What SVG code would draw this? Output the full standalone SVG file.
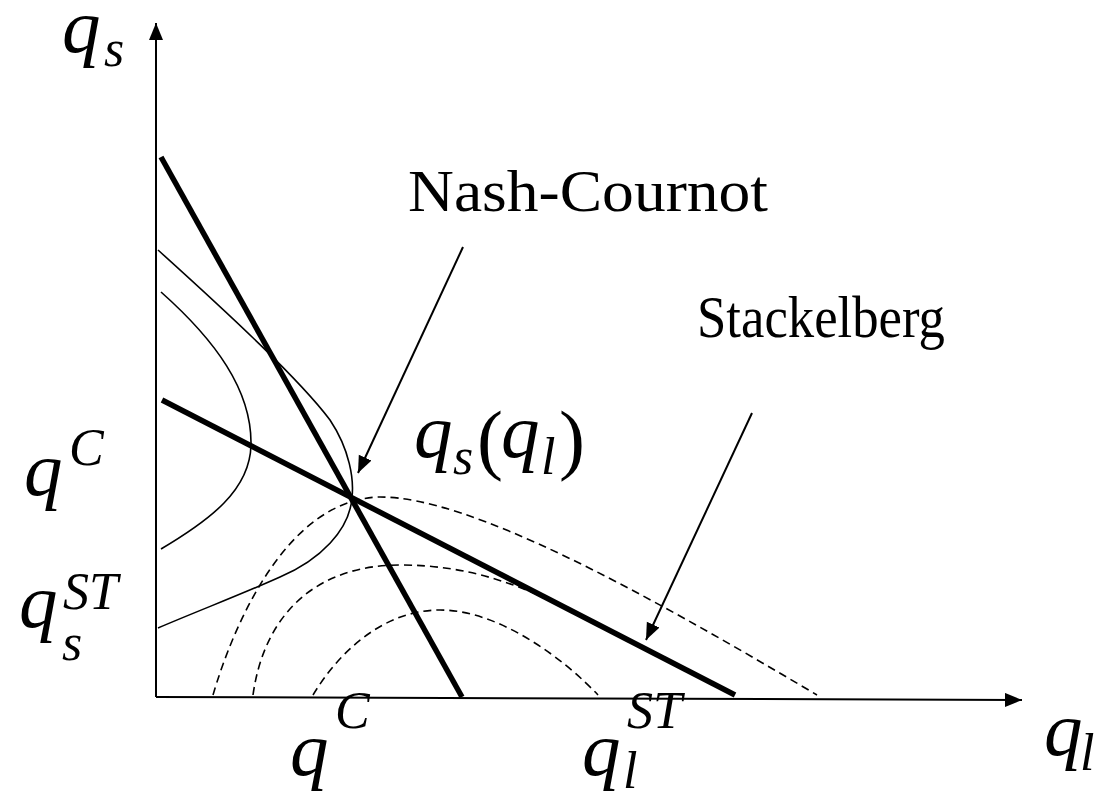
<svg xmlns="http://www.w3.org/2000/svg" width="1097" height="792" viewBox="0 0 1097 792">
<style>
.ax{stroke:#000;stroke-width:2;fill:none}
.thick{stroke:#000;stroke-width:5.5;fill:none;stroke-linecap:butt}
.thin{stroke:#000;stroke-width:1.6;fill:none}
.dash{stroke:#000;stroke-width:1.6;fill:none;stroke-dasharray:8 5}
.arr{stroke:#000;stroke-width:2;fill:none}
.lab{font-family:"Liberation Serif","Times New Roman",serif;font-size:60px;fill:#000}
.m{font-family:"Liberation Serif","Times New Roman",serif;font-style:italic;fill:#000}
.big{font-size:77px}
.sm{font-size:52px}
.par{font-family:"Liberation Serif","Times New Roman",serif;font-size:78px;fill:#000}
</style>
<defs>
<marker id="ah" markerUnits="userSpaceOnUse" markerWidth="18" markerHeight="16" refX="17" refY="7" orient="auto">
<path d="M0,0 L17,7 L0,14 z" fill="#000"/>
</marker>
</defs>
<rect width="1097" height="792" fill="#fff"/>
<g id="axes">
<line class="ax" x1="156" y1="697" x2="156" y2="23" marker-end="url(#ah)"/>
<line class="ax" x1="156" y1="697" x2="1022" y2="700" marker-end="url(#ah)"/>
</g>
<g id="reaction-lines">
<line class="thick" x1="161" y1="157" x2="462" y2="697"/>
<line class="thick" x1="162" y1="400" x2="735" y2="695"/>
</g>
<g id="follower-isoprofit">
<path class="thin" d="M158,250 C230,315 300,380 330,420 C350,450 354,480 352,497 C350,530 320,560 280,577 C240,595 200,610 158,628"/>
<path class="thin" d="M161,292 C215,340 252,390 251,445 C250,490 210,520 161,549"/>
</g>
<g id="leader-isoprofit">
<path class="dash" d="M213,695 C232,630 285,499 380,497 C470,497 640,590 817,695"/>
<path class="dash" d="M253,695 C265,610 320,565 400,565 C470,565 520,585 575,612 C640,645 690,672 734,694"/>
<path class="dash" d="M313,695 C340,650 385,610 440,610 C500,610 565,660 598,695"/>
</g>
<g id="connectors">
<line class="arr" x1="463" y1="247" x2="358" y2="473" marker-end="url(#ah)"/>
<line class="arr" x1="752" y1="413" x2="646" y2="640" marker-end="url(#ah)"/>
</g>
<g id="label-nash">
<text class="lab" x="408" y="211" textLength="360" lengthAdjust="spacingAndGlyphs">Nash-Cournot</text>
</g>
<g id="label-stackelberg">
<text class="lab" x="697" y="337" textLength="248" lengthAdjust="spacingAndGlyphs">Stackelberg</text>
</g>
<g id="label-qs-axis">
<text class="m big" x="62" y="52">q</text>
<text class="m sm" x="104" y="66">s</text>
</g>
<g id="label-ql-axis">
<text class="m big" x="1044" y="755">q</text>
<text class="m sm" x="1080" y="770">l</text>
</g>
<g id="label-qs-ql">
<text class="m big" x="414" y="457">q</text>
<text class="m sm" x="453" y="474">s</text>
<text class="par" x="477" y="465">(</text>
<text class="m big" x="501" y="457">q</text>
<text class="m sm" x="541" y="474">l</text>
<text class="par" x="559" y="465">)</text>
</g>
<g id="label-qC-left">
<text class="m big" x="24" y="495">q</text>
<text class="m sm" x="69" y="465">C</text>
</g>
<g id="label-qsST-left">
<text class="m big" x="19" y="627">q</text>
<text class="m sm" x="62" y="660">s</text>
<text class="m sm" x="63" y="609">ST</text>
</g>
<g id="label-qC-bottom">
<text class="m big" x="290" y="775">q</text>
<text class="m sm" x="335" y="728">C</text>
</g>
<g id="label-qlST-bottom">
<text class="m big" x="582" y="775">q</text>
<text class="m sm" x="623" y="788">l</text>
<text class="m sm" x="627" y="728">ST</text>
</g>
</svg>
